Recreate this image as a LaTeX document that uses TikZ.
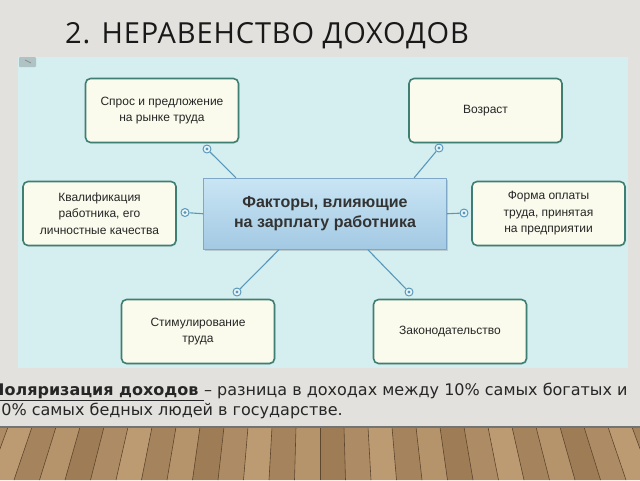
\documentclass[tikz,border=0pt]{standalone}
\usepackage{fontspec}
\setmainfont{DejaVu Sans}
\newfontfamily\titlefont[LetterSpace=3]{Open Sans}
\newfontfamily\boxfont{Liberation Sans}
\usetikzlibrary{shadows}

\definecolor{slidebg}{HTML}{E3E1DD}
\definecolor{panel}{HTML}{D5EEF0}
\definecolor{boxfill}{HTML}{FAFBEC}
\definecolor{boxline}{HTML}{3F7F73}
\definecolor{linkblue}{HTML}{5A98BA}
\definecolor{facfillA}{HTML}{C9E5F4}
\definecolor{facfillB}{HTML}{A3C9E3}
\definecolor{facline}{HTML}{7FA8C8}
\definecolor{woodA}{HTML}{94724C}
\definecolor{woodB}{HTML}{C6A57C}
\definecolor{woodline}{HTML}{5E472F}

\begin{document}
\begin{tikzpicture}[x=1pt, y=-1pt, line join=round]
    \tikzstyle{factor}=[rectangle, rounded corners=5pt, draw=boxline, line width=1.6pt, fill=boxfill, minimum width=153pt, minimum height=64pt, align=center, text=black!85, font=\boxfont\fontsize{12}{16.5}\selectfont, drop shadow={opacity=0.2, shadow xshift=1pt, shadow yshift=-1pt}]
    \tikzstyle{main factor}=[rectangle, draw=facline, line width=1pt, top color=facfillA, bottom color=facfillB, minimum width=243pt, minimum height=71pt, align=center, text=black!80, font=\boxfont\bfseries\fontsize{16}{20}\selectfont, drop shadow={opacity=0.3, shadow xshift=1.5pt, shadow yshift=-1.5pt}]
    \tikzstyle{knob}=[circle, draw=linkblue, line width=1pt, fill=panel!50!white, minimum size=8pt, inner sep=0pt, path picture={\fill[linkblue] (path picture bounding box.center) circle (1.6pt);}]
    \tikzstyle{link}=[draw=linkblue, line width=1.1pt]

    % Slide and floor
    \useasboundingbox (0,0) rectangle (640,480);
    \fill[slidebg] (0,0) rectangle (640,427);
    \fill[woodA] (0,427) rectangle (640,480);
    \foreach \i in {-15,...,14} {
        \pgfmathsetmacro{\s}{mod(\i*37+1000,5)*15+20}
        \fill[woodB!\s!woodA] ({320+\i*24},427) -- ({320+(\i+1)*24},427) -- ({320+(\i+1)*25.5},480) -- ({320+\i*25.5},480) -- cycle;
        \draw[woodline, line width=0.6pt] ({320+\i*24},427) -- ({320+\i*25.5},480);
    }
    \draw[black!55, line width=1.2pt] (0,427) -- (640,427);

    % Title
    \node[anchor=base west, inner sep=0pt, text=black!90, font=\titlefont\fontsize{29}{32}\selectfont] (title) at (65,43) {2. НЕРАВЕНСТВО ДОХОДОВ};

    % Panel
    \fill[panel] (18,57) rectangle (628,368);
    \fill[rounded corners=1pt, black!18!panel] (19,57) rectangle (36,67);
    \draw[black!45, line width=0.8pt] (25,60) -- (31,63);

    % Central node
    \node[main factor] (F) at (325,213.75) {Факторы, влияющие\\на зарплату работника};

    % Factor boxes
    \foreach \n/\x/\y/\t in {1/162/110.5/{Спрос и предложение\\на рынке труда},
                             2/485.5/110.5/{Возраст},
                             3/99.5/213.5/{Квалификация\\работника, его\\личностные качества},
                             4/548.5/213.5/{Форма оплаты\\труда, принятая\\на предприятии},
                             5/198/331.5/{Стимулирование\\труда},
                             6/450/331.5/{Законодательство}}
        \node[factor] (Q-\n) at (\x,\y) {\t};

    % Knobs
    \foreach \n/\x/\y in {1/207/149, 2/439/148, 3/185/212.5, 4/464/213, 5/237/292, 6/409/292}
        \node[knob] (K-\n) at (\x,\y) {};

    % Connect central node to knobs
    \foreach \n/\a in {1/158, 2/22, 3/180, 4/0, 5/218.5, 6/320.3}
        \draw[link] (F.\a) -- (K-\n);

    % Definition
    \node[anchor=base west, align=left, inner sep=0pt, text=black!85, font=\fontsize{16}{20}\selectfont] (def) at (-9,415) {\underline{\textbf{Поляризация доходов\ }}– разница в доходах между 10\% самых богатых и\\10\% самых бедных людей в государстве.};
\end{tikzpicture}
\end{document}
